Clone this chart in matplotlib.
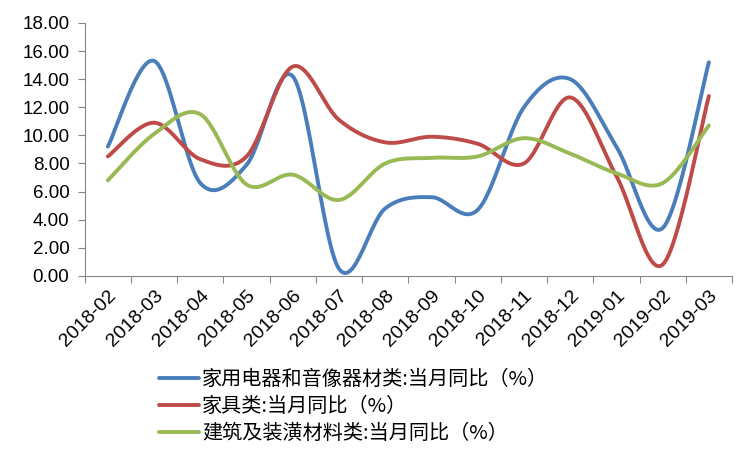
import numpy as np
import matplotlib.pyplot as plt

plt.rcParams['font.family'] = ['Liberation Sans', 'DejaVu Sans']

months = ['2018-02', '2018-03', '2018-04', '2018-05', '2018-06', '2018-07', '2018-08',
          '2018-09', '2018-10', '2018-11', '2018-12', '2019-01', '2019-02', '2019-03']
appliances = [9.2, 15.3, 6.6, 7.9, 14.2, 0.5, 4.8, 5.6, 4.7, 12.0, 14.0, 9.2, 3.4, 15.2]
furniture = [8.5, 10.9, 8.3, 8.5, 14.9, 11.1, 9.5, 9.9, 9.4, 8.0, 12.7, 7.1, 0.8, 12.8]
building = [6.8, 10.1, 11.5, 6.5, 7.2, 5.4, 8.0, 8.4, 8.5, 9.8, 8.7, 7.3, 6.6, 10.7]
names = ['家用电器和音像器材类:当月同比（%）', '家具类:当月同比（%）', '建筑及装潢材料类:当月同比（%）']
colors = ['#4A7EBB', '#BE4B48', '#98B954']


def smooth(y, n=30):
    # Catmull-Rom style smoothing like Excel's smoothed line
    y = np.asarray(y, dtype=float)
    x = np.arange(len(y), dtype=float)
    px = np.concatenate([[x[0]], x, [x[-1]]])
    py = np.concatenate([[y[0]], y, [y[-1]]])
    xs, ys = [], []
    t = np.linspace(0, 1, n)
    for i in range(1, len(px) - 2):
        p0, p1, p2, p3 = (np.array([px[j], py[j]]) for j in (i - 1, i, i + 1, i + 2))
        c1 = p1 + (p2 - p0) / 6
        c2 = p2 - (p3 - p1) / 6
        b = ((1 - t) ** 3)[:, None] * p1 + (3 * (1 - t) ** 2 * t)[:, None] * c1 \
            + (3 * (1 - t) * t ** 2)[:, None] * c2 + (t ** 3)[:, None] * p2
        xs.extend(b[:, 0])
        ys.extend(b[:, 1])
    return np.array(xs), np.array(ys)


fig = plt.figure(figsize=(7.5, 4.5), dpi=100)
ax = fig.add_axes([0.113, 0.387, 0.863, 0.562])

handles = []
for vals, c in zip([appliances, furniture, building], colors):
    sx, sy = smooth(vals)
    h, = ax.plot(sx, sy, color=c, lw=2.8, solid_capstyle='round')
    handles.append(h)

ax.set_xlim(-0.5, len(months) - 0.5)
ax.set_ylim(0, 18)
ax.set_yticks(np.arange(0, 18.1, 2))
ax.set_yticklabels(['%.2f' % v for v in np.arange(0, 18.1, 2)], fontsize=13.5)
ax.set_xticks(np.arange(-0.5, len(months), 1))
ax.set_xticklabels([])
ax.set_xticks(np.arange(len(months)), minor=True)
ax.set_xticklabels(months, minor=True, rotation=45, ha='right', va='top',
                   rotation_mode='anchor', fontsize=14)
ax.tick_params(axis='x', which='minor', length=0, pad=8)
ax.tick_params(axis='y', pad=6)
ax.tick_params(axis='both', which='major', length=5, color='#868686', direction='out')
for s in ['top', 'right']:
    ax.spines[s].set_visible(False)
for s in ['left', 'bottom']:
    ax.spines[s].set_color('#868686')

fig.legend(handles, names, loc='upper left', bbox_to_anchor=(0.212, 0.18), frameon=False,
           prop={'family': ['Noto Sans CJK SC', 'DejaVu Sans'], 'size': 14.5},
           handlelength=2.0, handletextpad=0.15, labelspacing=0.3,
           borderpad=0, borderaxespad=0)

plt.savefig('out.png', dpi=100)
